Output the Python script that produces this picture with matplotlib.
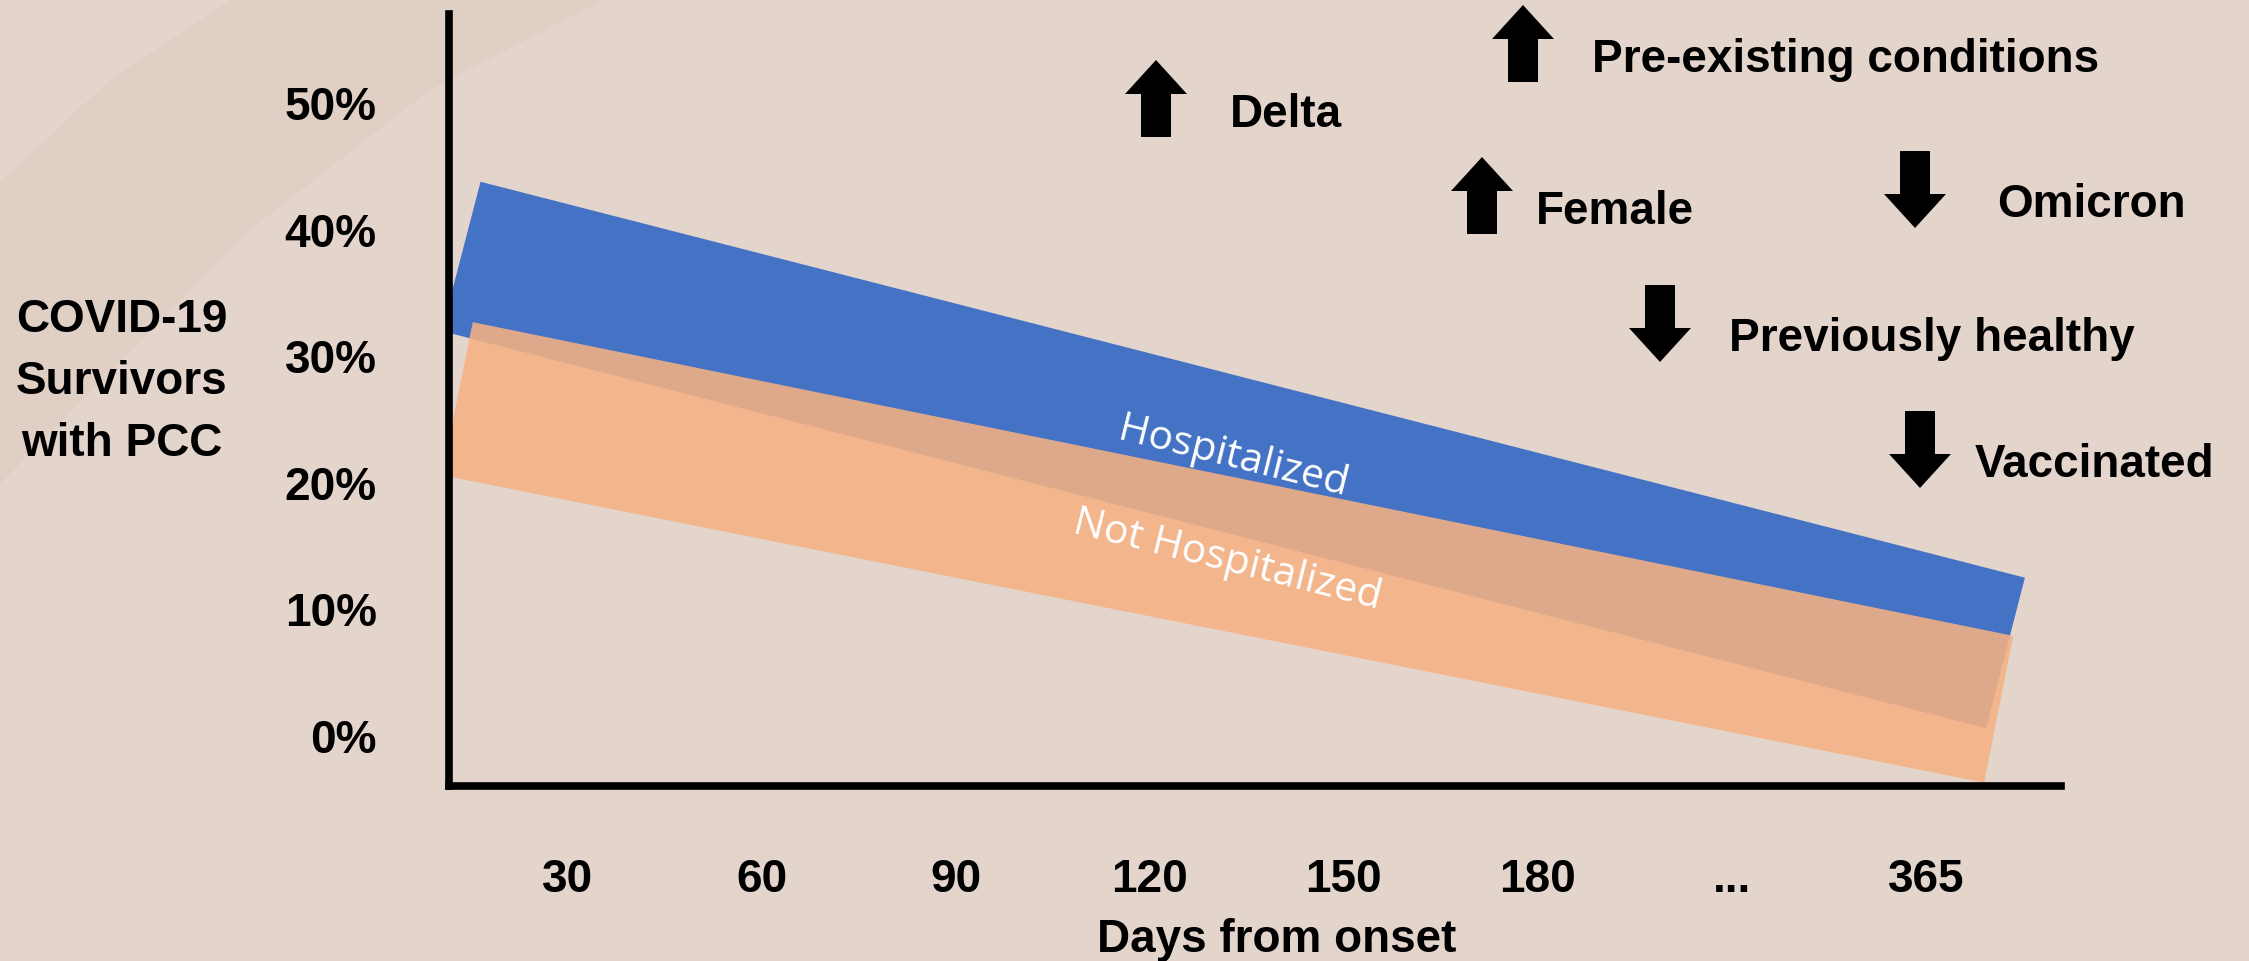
import matplotlib.pyplot as plt
from matplotlib.patches import FancyArrow, Polygon

plt.rcParams['font.family'] = ['Liberation Sans', 'DejaVu Sans']

# x positions are tick slots (0 = day 30 ... 7 = day 365), y in percent
day_labels = ['30', '60', '90', '120', '150', '180', '...', '365']
pct_ticks = [0, 10, 20, 30, 40, 50]

# band corners: top-left, top-right, bottom-right, bottom-left
hosp_x = [-0.45, 7.51, 7.31, -0.65]
hosp_y = [43.8, 12.5, 0.6, 32.0]
nonhosp_x = [-0.49, 7.45, 7.30, -0.65]
nonhosp_y = [32.7, 7.9, -3.7, 20.6]

factors = ['Delta', 'Pre-existing conditions', 'Female',
           'Omicron', 'Previously healthy', 'Vaccinated']
effects = ['up', 'up', 'up', 'down', 'down', 'down']

BG = '#e4d5cc'
BLUE = '#4472C4'
ORANGE = '#F4B183'

W, H = 2249, 961
fig = plt.figure(figsize=(W / 100, H / 100), dpi=100, facecolor=BG)

# faint swoosh in the top-left corner
bg = fig.add_axes([0, 0, 1, 1], zorder=0)
bg.set_xlim(0, W)
bg.set_ylim(H, 0)
bg.axis('off')
bg.add_patch(Polygon([(0, 182), (110, 80), (231, 0), (603, 0), (430, 90),
                      (250, 230), (0, 484)],
                     closed=True, color='#dccbc0', lw=0, alpha=0.6))

ax = fig.add_axes([0.1996, 0.1821, 0.7168, 0.8033], zorder=1)
ax.patch.set_alpha(0)

ax.fill(hosp_x, hosp_y, color=BLUE, lw=0)
ax.fill(nonhosp_x, nonhosp_y, color=ORANGE, alpha=0.88, lw=0)

ax.text(3.43, 22.0, 'Hospitalized', color='white', fontsize=29.5, family='Open Sans',
        rotation=-14, ha='center', va='center', rotation_mode='anchor')
ax.text(3.40, 13.9, 'Not Hospitalized', color='white', fontsize=29.5, family='Open Sans',
        rotation=-14, ha='center', va='center', rotation_mode='anchor')

ax.set_xlim(-0.613, 7.696)
ax.set_ylim(-3.97, 57.06)
ax.set_xticks(range(len(day_labels)), day_labels)
ax.set_yticks(pct_ticks, [f'{v}%' for v in pct_ticks])
ax.tick_params(length=0, labelsize=33, colors='black')
ax.tick_params(axis='y', pad=52)
ax.tick_params(axis='x', pad=52)
for lab in ax.get_xticklabels() + ax.get_yticklabels():
    lab.set_fontweight('bold')

for side in ['top', 'right']:
    ax.spines[side].set_visible(False)
for side in ['left', 'bottom']:
    ax.spines[side].set_linewidth(5.5)
    ax.spines[side].set_color('black')

fig.text(122 / W, 1 - 382 / H, 'COVID-19\nSurvivors\nwith PCC', ha='center', va='center',
         fontsize=33, fontweight='bold', linespacing=1.54)
fig.text(1277 / W, 1 - 940 / H, 'Days from onset', ha='center', va='center',
         fontsize=33, fontweight='bold')

# arrows and factor labels, in figure pixels
ov = fig.add_axes([0, 0, 1, 1], zorder=2)
ov.set_xlim(0, W)
ov.set_ylim(H, 0)
ov.axis('off')

arrow_x = [1156, 1523, 1482, 1915, 1660, 1920]
arrow_top = [60, 5, 157, 151, 285, 411]
text_x = [1230, 1592, 1536, 1997, 1729, 1975]
text_y = [115, 60, 212, 205, 339, 465]
arrow_len = 77

for name, eff, x, top, tx, ty in zip(factors, effects, arrow_x, arrow_top, text_x, text_y):
    if eff == 'up':
        start, dy = top + arrow_len, -arrow_len
    else:
        start, dy = top, arrow_len
    ov.add_patch(FancyArrow(x, start, 0, dy, width=30, head_width=62, head_length=34,
                            length_includes_head=True, color='black', lw=0))
    ov.text(tx, ty, name, ha='left', va='center', fontsize=33, fontweight='bold')

fig.savefig('out.png', dpi=100, facecolor=BG)
